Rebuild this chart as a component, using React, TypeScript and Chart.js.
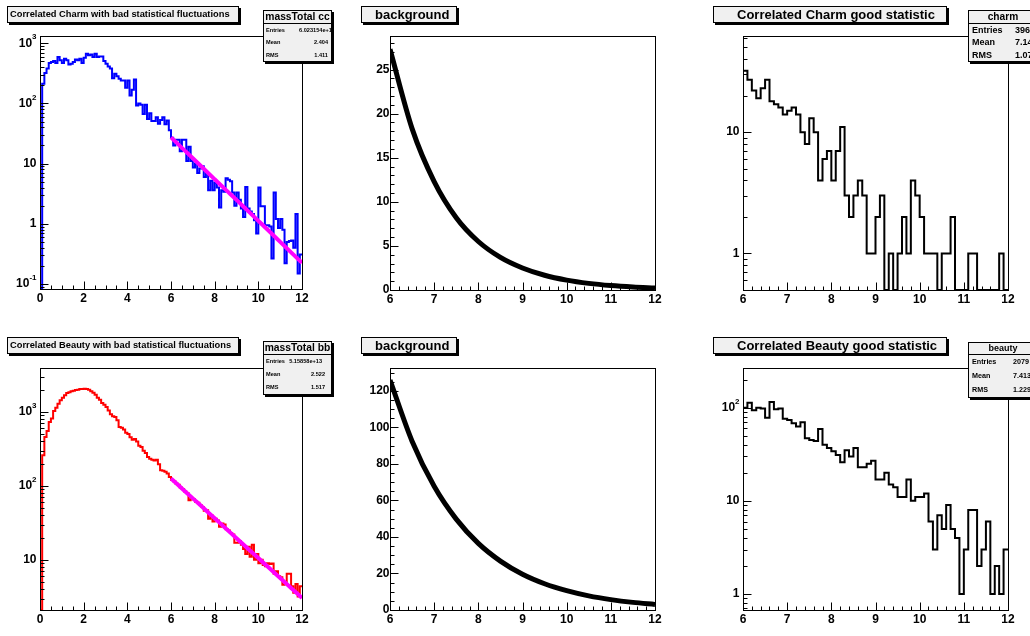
import React, { useEffect, useRef } from "react";
import { Chart, registerables } from "chart.js";
Chart.register(...registerables);

// ---------------- data ----------------
const binWidth = 0.1;
const badBinStart = 0;
const goodBinStart = 6;

const charmBadCounts = [
  0, 212, 320, 380, 469, 488, 507, 469, 590, 520,
  469, 553, 520, 445, 457, 488, 536, 520, 553, 469,
  575, 670, 630, 650, 590, 670, 590, 600, 600, 507,
  457, 410, 380, 262, 311, 282, 257, 240, 240, 182,
  240, 136, 169, 250, 92, 100, 95, 67, 95, 55,
  69, 51, 51, 59, 46, 53, 59, 45, 52, 36,
  27, 20, 25, 25, 16, 25, 25, 11, 19, 11,
  8.6, 10, 7, 8.3, 9, 6, 7, 3.6, 5.2, 3.6,
  4.8, 4, 1.87, 3.6, 3.4, 5.7, 5.4, 5.1, 3.3, 2.0,
  3.3, 2.5, 1.8, 1.3, 4.1, 1.8, 1.6, 1.45, 1.15, 0.69,
  4, 1.95, 1.95, 0.95, 0.95, 0.9, 0.265, 3.3, 1.2, 0.85,
  1.2, 0.8, 0.22, 0.5, 0.52, 0.53, 0.4, 1.45, 0.15, 0.31,
];

const beautyBadCounts = [
  0, 259, 459, 552, 731, 813, 1028, 1143, 1295, 1435,
  1560, 1676, 1800, 1850, 1900, 1940, 1980, 2000, 2040, 2040,
  2060, 2040, 2000, 1900, 1820, 1710, 1560, 1460, 1320, 1250,
  1165, 1050, 929, 875, 855, 775, 626, 610, 580, 525,
  505, 455, 420, 430, 400, 350, 335, 300, 278, 246,
  233, 226, 220, 226, 196, 163, 160, 155, 147, 132,
  120, 116, 108, 104, 95, 91, 84, 80, 64, 68,
  66, 61, 59, 55, 52, 46, 47, 36, 40, 33,
  36, 34, 28, 31, 30, 26, 25, 23, 22, 17,
  17, 18, 16, 14, 12, 15, 11, 16, 10, 12,
  9, 10, 8.5, 8.2, 9, 8.8, 8.9, 6.5, 7, 6,
  5.8, 4.6, 4.9, 6.5, 6.5, 4.4, 3.6, 4.7, 3.2, 4.4,
];

const charmGoodCounts = [
  32, 27, 22, 19, 23, 27, 18, 17, 16, 14,
  15, 16, 14, 10, 8, 13, 10, 4, 6, 7,
  4, 7, 11, 3, 2, 3, 4, 3, 1, 1,
  2, 3, 0, 1, 0, 1, 2, 1, 4, 3,
  2, 1, 1, 1, 0, 1, 1, 2, 0, 0,
  0, 1, 1, 0, 0, 0, 0, 0, 1, 0,
];

const beautyGoodCounts = [
  100, 113, 94, 100, 98, 78, 115, 96, 98, 76,
  74, 68, 63, 70, 47, 45, 44, 59, 40, 37,
  34, 31, 26, 35, 30, 37, 23, 23, 25, 27,
  17, 17, 20, 15, 14, 11, 11, 17, 10, 11,
  11, 12, 6, 3, 7, 5, 9, 5, 4, 1,
  3, 8, 8, 2, 3, 6, 1, 2, 1, 3,
];

// fitted exponential background, read at these x positions
const fitX = [6, 6.5, 7, 7.5, 8, 8.5, 9, 9.5, 10, 10.5, 11, 11.5, 12];
const charmFitY = [27.3, 18.3, 12.3, 8.2, 5.5, 3.7, 2.5, 1.67, 1.12, 0.75, 0.5, 0.335, 0.224];
const beautyFitY = [126, 92.5, 67.8, 49.8, 36.5, 26.8, 19.6, 14.4, 10.6, 7.75, 5.69, 4.17, 3.06];

// tick labels
const badXTicks = [0, 2, 4, 6, 8, 10, 12];
const badXLabels = ["0", "2", "4", "6", "8", "10", "12"];
const goodXTicks = [6, 7, 8, 9, 10, 11, 12];
const goodXLabels = ["6", "7", "8", "9", "10", "11", "12"];
const charmBadYTicks = [0.1, 1, 10, 100, 1000];
const charmBadYLabels = ["10^-1", "1", "10", "10^2", "10^3"];
const charmBgYTicks = [0, 5, 10, 15, 20, 25];
const charmBgYLabels = ["0", "5", "10", "15", "20", "25"];
const charmGoodYTicks = [1, 10];
const charmGoodYLabels = ["1", "10"];
const beautyBadYTicks = [10, 100, 1000];
const beautyBadYLabels = ["10", "10^2", "10^3"];
const beautyBgYTicks = [0, 20, 40, 60, 80, 100, 120];
const beautyBgYLabels = ["0", "20", "40", "60", "80", "100", "120"];
const beautyGoodYTicks = [1, 10, 100];
const beautyGoodYLabels = ["1", "10", "10^2"];

// texts
const titleCharmBad = "Correlated Charm with bad statistical fluctuations";
const titleBackground = "background";
const titleCharmGood = "Correlated Charm good statistic";
const titleBeautyBad = "Correlated Beauty with bad statistical fluctuations";
const titleBeautyGood = "Correlated Beauty good statistic";

const statLabels = ["Entries", "Mean", "RMS"];
const statCharmBad = ["6.023154e+13", "2.404", "1.411"];
const statBeautyBad = ["5.15858e+13", "2.522", "1.517"];
const statCharmGood = ["396", "7.14", "1.07"];
const statBeautyGood = ["2079", "7.413", "1.229"];

// ---------------- helpers ----------------
const FONT = '"Liberation Sans", Arial, Helvetica, sans-serif';
const LBL = 12;
const EXP = 8;

function stepPoints(start: number, width: number, counts: number[], floor: number) {
  const pts: { x: number; y: number }[] = [];
  counts.forEach((c, i) => {
    const v = c > floor ? c : floor;
    pts.push({ x: start + i * width, y: v }, { x: start + (i + 1) * width, y: v });
  });
  return pts;
}

function curvePoints(xs: number[], ys: number[]) {
  return xs.map((x, i) => ({ x, y: ys[i] }));
}

type AxisSpec = {
  xTicks: number[];
  xLabels: string[];
  xMinorStep: number;
  yTicks: number[];
  yLabels: string[];
  yLog: boolean;
  yMinorStep: number;
  yGap: number;
};

function makeAxesPlugin(spec: AxisSpec) {
  return {
    id: "rootAxes",
    afterDraw(chart: any) {
      const { ctx, chartArea: a } = chart;
      const xs = chart.scales.x;
      const ys = chart.scales.y;
      const L = Math.round(a.left) + 0.5;
      const R = Math.round(a.right) + 0.5;
      const T = Math.round(a.top) + 0.5;
      const B = Math.round(a.bottom) + 0.5;
      ctx.save();
      ctx.strokeStyle = "#000";
      ctx.lineWidth = 1;
      ctx.strokeRect(L, T, R - L, B - T);
      ctx.beginPath();
      const nx = Math.round((xs.max - xs.min) / spec.xMinorStep);
      for (let i = 0; i <= nx; i++) {
        const px = Math.round(xs.getPixelForValue(xs.min + i * spec.xMinorStep)) + 0.5;
        ctx.moveTo(px, B);
        ctx.lineTo(px, B - 4);
      }
      spec.xTicks.forEach((v) => {
        const px = Math.round(xs.getPixelForValue(v)) + 0.5;
        ctx.moveTo(px, B);
        ctx.lineTo(px, B - 8);
      });
      const yMinor: number[] = [];
      if (spec.yLog) {
        const d0 = Math.floor(Math.log10(ys.min));
        const d1 = Math.ceil(Math.log10(ys.max));
        for (let d = d0; d <= d1; d++) {
          for (let m = 1; m <= 9; m++) {
            const v = m * Math.pow(10, d);
            if (v >= ys.min && v <= ys.max) yMinor.push(v);
          }
        }
      } else {
        const n = Math.floor((ys.max - ys.min) / spec.yMinorStep + 1e-9);
        for (let i = 0; i <= n; i++) yMinor.push(ys.min + i * spec.yMinorStep);
      }
      yMinor.forEach((v) => {
        const py = Math.round(ys.getPixelForValue(v)) + 0.5;
        ctx.moveTo(L, py);
        ctx.lineTo(L + 4, py);
      });
      spec.yTicks.forEach((v) => {
        const py = Math.round(ys.getPixelForValue(v)) + 0.5;
        ctx.moveTo(L, py);
        ctx.lineTo(L + 8, py);
      });
      ctx.stroke();

      ctx.fillStyle = "#000";
      ctx.font = `bold ${LBL}px ${FONT}`;
      ctx.textAlign = "center";
      ctx.textBaseline = "top";
      spec.xTicks.forEach((v, i) => {
        ctx.fillText(spec.xLabels[i], xs.getPixelForValue(v), B + 3);
      });
      spec.yTicks.forEach((v, i) => {
        const parts = spec.yLabels[i].split("^");
        const base = parts[0];
        const exp = parts[1];
        const py = ys.getPixelForValue(v);
        ctx.font = `bold ${EXP}px ${FONT}`;
        const ew = exp ? ctx.measureText(exp).width : 0;
        ctx.font = `bold ${LBL}px ${FONT}`;
        const bw = ctx.measureText(base).width;
        const right = L - spec.yGap;
        ctx.textAlign = "left";
        ctx.textBaseline = "middle";
        ctx.fillText(base, right - ew - bw, py);
        if (exp) {
          ctx.font = `bold ${EXP}px ${FONT}`;
          ctx.fillText(exp, right - ew, py - 6);
        }
      });
      ctx.restore();
    },
  };
}

type Rect = { x: number; y: number; w: number; h: number };
type Frame = { l: number; t: number; r: number; b: number };

function buildConfig(
  box: Rect,
  frame: Frame,
  datasets: any[],
  xMin: number,
  xMax: number,
  yType: "linear" | "logarithmic",
  yMin: number,
  yMax: number,
  spec: AxisSpec
) {
  return {
    type: "line" as const,
    data: { datasets },
    options: {
      animation: false as const,
      responsive: false,
      maintainAspectRatio: false,
      events: [] as any[],
      layout: {
        padding: {
          left: frame.l - box.x,
          top: frame.t - box.y,
          right: box.x + box.w - frame.r,
          bottom: box.y + box.h - frame.b,
        },
      },
      scales: {
        x: { type: "linear" as const, min: xMin, max: xMax, display: false },
        y: { type: yType, min: yMin, max: yMax, display: false },
      },
      plugins: { legend: { display: false }, tooltip: { enabled: false }, title: { display: false } },
      elements: { point: { radius: 0 } },
    },
    plugins: [makeAxesPlugin(spec)],
  };
}

function histDataset(points: any[], color: string, width: number) {
  return {
    data: points,
    borderColor: color,
    borderWidth: width,
    pointRadius: 0,
    tension: 0,
    fill: false,
    borderJoinStyle: "miter",
  };
}

function curveDataset(points: any[], color: string, width: number) {
  return {
    data: points,
    borderColor: color,
    borderWidth: width,
    pointRadius: 0,
    fill: false,
    cubicInterpolationMode: "monotone",
  };
}

function Pad({ box, make }: { box: Rect; make: () => any }) {
  const ref = useRef<HTMLCanvasElement>(null);
  useEffect(() => {
    const chart = new Chart(ref.current as HTMLCanvasElement, make());
    return () => chart.destroy();
  }, []);
  return (
    <canvas
      ref={ref}
      width={box.w}
      height={box.h}
      style={{ position: "absolute", left: box.x, top: box.y, width: box.w, height: box.h }}
    />
  );
}

function TitleBox({ x, y, w, h, text, size, padLeft }: any) {
  return (
    <div
      style={{
        position: "absolute",
        left: x,
        top: y,
        width: w,
        height: h,
        boxSizing: "border-box",
        border: "1px solid #000",
        background: "#f0f0f0",
        boxShadow: "2px 2px 0 #000",
        font: `bold ${size}px ${FONT}`,
        lineHeight: `${h - 2}px`,
        paddingLeft: padLeft,
        whiteSpace: "nowrap",
        color: "#000",
      }}
    >
      {text}
    </div>
  );
}

function StatBox({ x, y, w, h, headH, name, nameSize, values, rowSize, labelPad, valuePos }: any) {
  const rowH = (h - 2 - headH) / statLabels.length;
  return (
    <div
      style={{
        position: "absolute",
        left: x,
        top: y,
        width: w,
        height: h,
        boxSizing: "border-box",
        border: "1px solid #000",
        background: "#f0f0f0",
        boxShadow: "2px 2px 0 #000",
        overflow: "hidden",
        fontFamily: FONT,
        fontWeight: "bold",
        color: "#000",
        whiteSpace: "nowrap",
      }}
    >
      <div
        style={{
          height: headH,
          lineHeight: `${headH - 1}px`,
          borderBottom: "1px solid #000",
          boxSizing: "border-box",
          textAlign: "center",
          fontSize: nameSize,
        }}
      >
        {name}
      </div>
      {statLabels.map((lab, i) => (
        <div
          key={lab}
          style={{
            position: "absolute",
            left: 0,
            right: 0,
            top: headH + i * rowH,
            height: rowH,
            lineHeight: `${rowH}px`,
            fontSize: rowSize,
          }}
        >
          <span style={{ position: "absolute", left: labelPad }}>{lab}</span>
          <span style={{ position: "absolute", ...valuePos[i] }}>{values[i]}</span>
        </div>
      ))}
    </div>
  );
}

// ---------------- layout ----------------
const box1: Rect = { x: 0, y: 0, w: 345, h: 318 };
const box2: Rect = { x: 345, y: 0, w: 345, h: 318 };
const box3: Rect = { x: 690, y: 0, w: 340, h: 318 };
const box4: Rect = { x: 0, y: 318, w: 345, h: 318 };
const box5: Rect = { x: 345, y: 318, w: 345, h: 318 };
const box6: Rect = { x: 690, y: 318, w: 340, h: 318 };

const fr1: Frame = { l: 40, t: 36, r: 302, b: 289 };
const fr2: Frame = { l: 390, t: 36, r: 655, b: 290 };
const fr3: Frame = { l: 743, t: 36, r: 1008, b: 290 };
const fr4: Frame = { l: 40, t: 368, r: 302, b: 610 };
const fr5: Frame = { l: 390, t: 368, r: 655, b: 610 };
const fr6: Frame = { l: 743, t: 368, r: 1008, b: 610 };

const make1 = () =>
  buildConfig(
    box1,
    fr1,
    [
      curveDataset(curvePoints(fitX, charmFitY), "#ff00ff", 4),
      histDataset(stepPoints(badBinStart, binWidth, charmBadCounts, 0.0825), "#0000ff", 2),
    ],
    0,
    12,
    "logarithmic",
    0.0825,
    1320,
    { xTicks: badXTicks, xLabels: badXLabels, xMinorStep: 0.5, yTicks: charmBadYTicks, yLabels: charmBadYLabels, yLog: true, yMinorStep: 0, yGap: 4 }
  );

const make2 = () =>
  buildConfig(
    box2,
    fr2,
    [curveDataset(curvePoints(fitX, charmFitY), "#000000", 5)],
    6,
    12,
    "linear",
    0,
    28.8,
    { xTicks: goodXTicks, xLabels: goodXLabels, xMinorStep: 0.2, yTicks: charmBgYTicks, yLabels: charmBgYLabels, yLog: false, yMinorStep: 1, yGap: 1 }
  );

const make3 = () =>
  buildConfig(
    box3,
    fr3,
    [histDataset(stepPoints(goodBinStart, binWidth, charmGoodCounts, 0.5), "#000000", 2)],
    6,
    12,
    "logarithmic",
    0.5,
    62,
    { xTicks: goodXTicks, xLabels: goodXLabels, xMinorStep: 0.2, yTicks: charmGoodYTicks, yLabels: charmGoodYLabels, yLog: true, yMinorStep: 0, yGap: 4 }
  );

const make4 = () =>
  buildConfig(
    box4,
    fr4,
    [
      curveDataset(curvePoints(fitX, beautyFitY), "#ff00ff", 4),
      histDataset(stepPoints(badBinStart, binWidth, beautyBadCounts, 2.1), "#ff0000", 2),
    ],
    0,
    12,
    "logarithmic",
    2.1,
    3930,
    { xTicks: badXTicks, xLabels: badXLabels, xMinorStep: 0.5, yTicks: beautyBadYTicks, yLabels: beautyBadYLabels, yLog: true, yMinorStep: 0, yGap: 4 }
  );

const make5 = () =>
  buildConfig(
    box5,
    fr5,
    [curveDataset(curvePoints(fitX, beautyFitY), "#000000", 5)],
    6,
    12,
    "linear",
    0,
    132.6,
    { xTicks: goodXTicks, xLabels: goodXLabels, xMinorStep: 0.2, yTicks: beautyBgYTicks, yLabels: beautyBgYLabels, yLog: false, yMinorStep: 5, yGap: 1 }
  );

const make6 = () =>
  buildConfig(
    box6,
    fr6,
    [histDataset(stepPoints(goodBinStart, binWidth, beautyGoodCounts, 0.673), "#000000", 2)],
    6,
    12,
    "logarithmic",
    0.673,
    267,
    { xTicks: goodXTicks, xLabels: goodXLabels, xMinorStep: 0.2, yTicks: beautyGoodYTicks, yLabels: beautyGoodYLabels, yLog: true, yMinorStep: 0, yGap: 4 }
  );

export default function App() {
  return (
    <div
      style={{
        position: "absolute",
        left: 0,
        top: 0,
        width: 1030,
        height: 636,
        overflow: "hidden",
        background: "#ffffff",
      }}
    >
      <Pad box={box1} make={make1} />
      <Pad box={box2} make={make2} />
      <Pad box={box3} make={make3} />
      <Pad box={box4} make={make4} />
      <Pad box={box5} make={make5} />
      <Pad box={box6} make={make6} />

      <TitleBox x={7} y={6} w={232} h={17} text={titleCharmBad} size={9.3} padLeft={2} />
      <TitleBox x={361} y={6} w={96} h={17} text={titleBackground} size={13} padLeft={13} />
      <TitleBox x={713} y={6} w={234} h={17} text={titleCharmGood} size={13} padLeft={23} />
      <TitleBox x={7} y={337} w={232} h={17} text={titleBeautyBad} size={9.3} padLeft={2} />
      <TitleBox x={361} y={337} w={96} h={17} text={titleBackground} size={13} padLeft={13} />
      <TitleBox x={713} y={337} w={234} h={17} text={titleBeautyGood} size={13} padLeft={23} />

      <StatBox
        x={263} y={10} w={69} h={52} headH={13}
        name="massTotal cc" nameSize={10.3} values={statCharmBad} rowSize={5.6} labelPad={2}
        valuePos={[{ right: -4 }, { right: 3 }, { right: 3 }]}
      />
      <StatBox
        x={263} y={341} w={69} h={54} headH={13}
        name="massTotal bb" nameSize={10.3} values={statBeautyBad} rowSize={5.6} labelPad={2}
        valuePos={[{ right: 9 }, { right: 6 }, { right: 6 }]}
      />
      <StatBox
        x={968} y={10} w={70} h={52} headH={13}
        name="charm" nameSize={10.2} values={statCharmGood} rowSize={9} labelPad={3}
        valuePos={[{ left: 46 }, { left: 46 }, { left: 46 }]}
      />
      <StatBox
        x={968} y={342} w={70} h={56} headH={12}
        name="beauty" nameSize={9} values={statBeautyGood} rowSize={7.2} labelPad={3}
        valuePos={[{ left: 44 }, { left: 44 }, { left: 44 }]}
      />
    </div>
  );
}
